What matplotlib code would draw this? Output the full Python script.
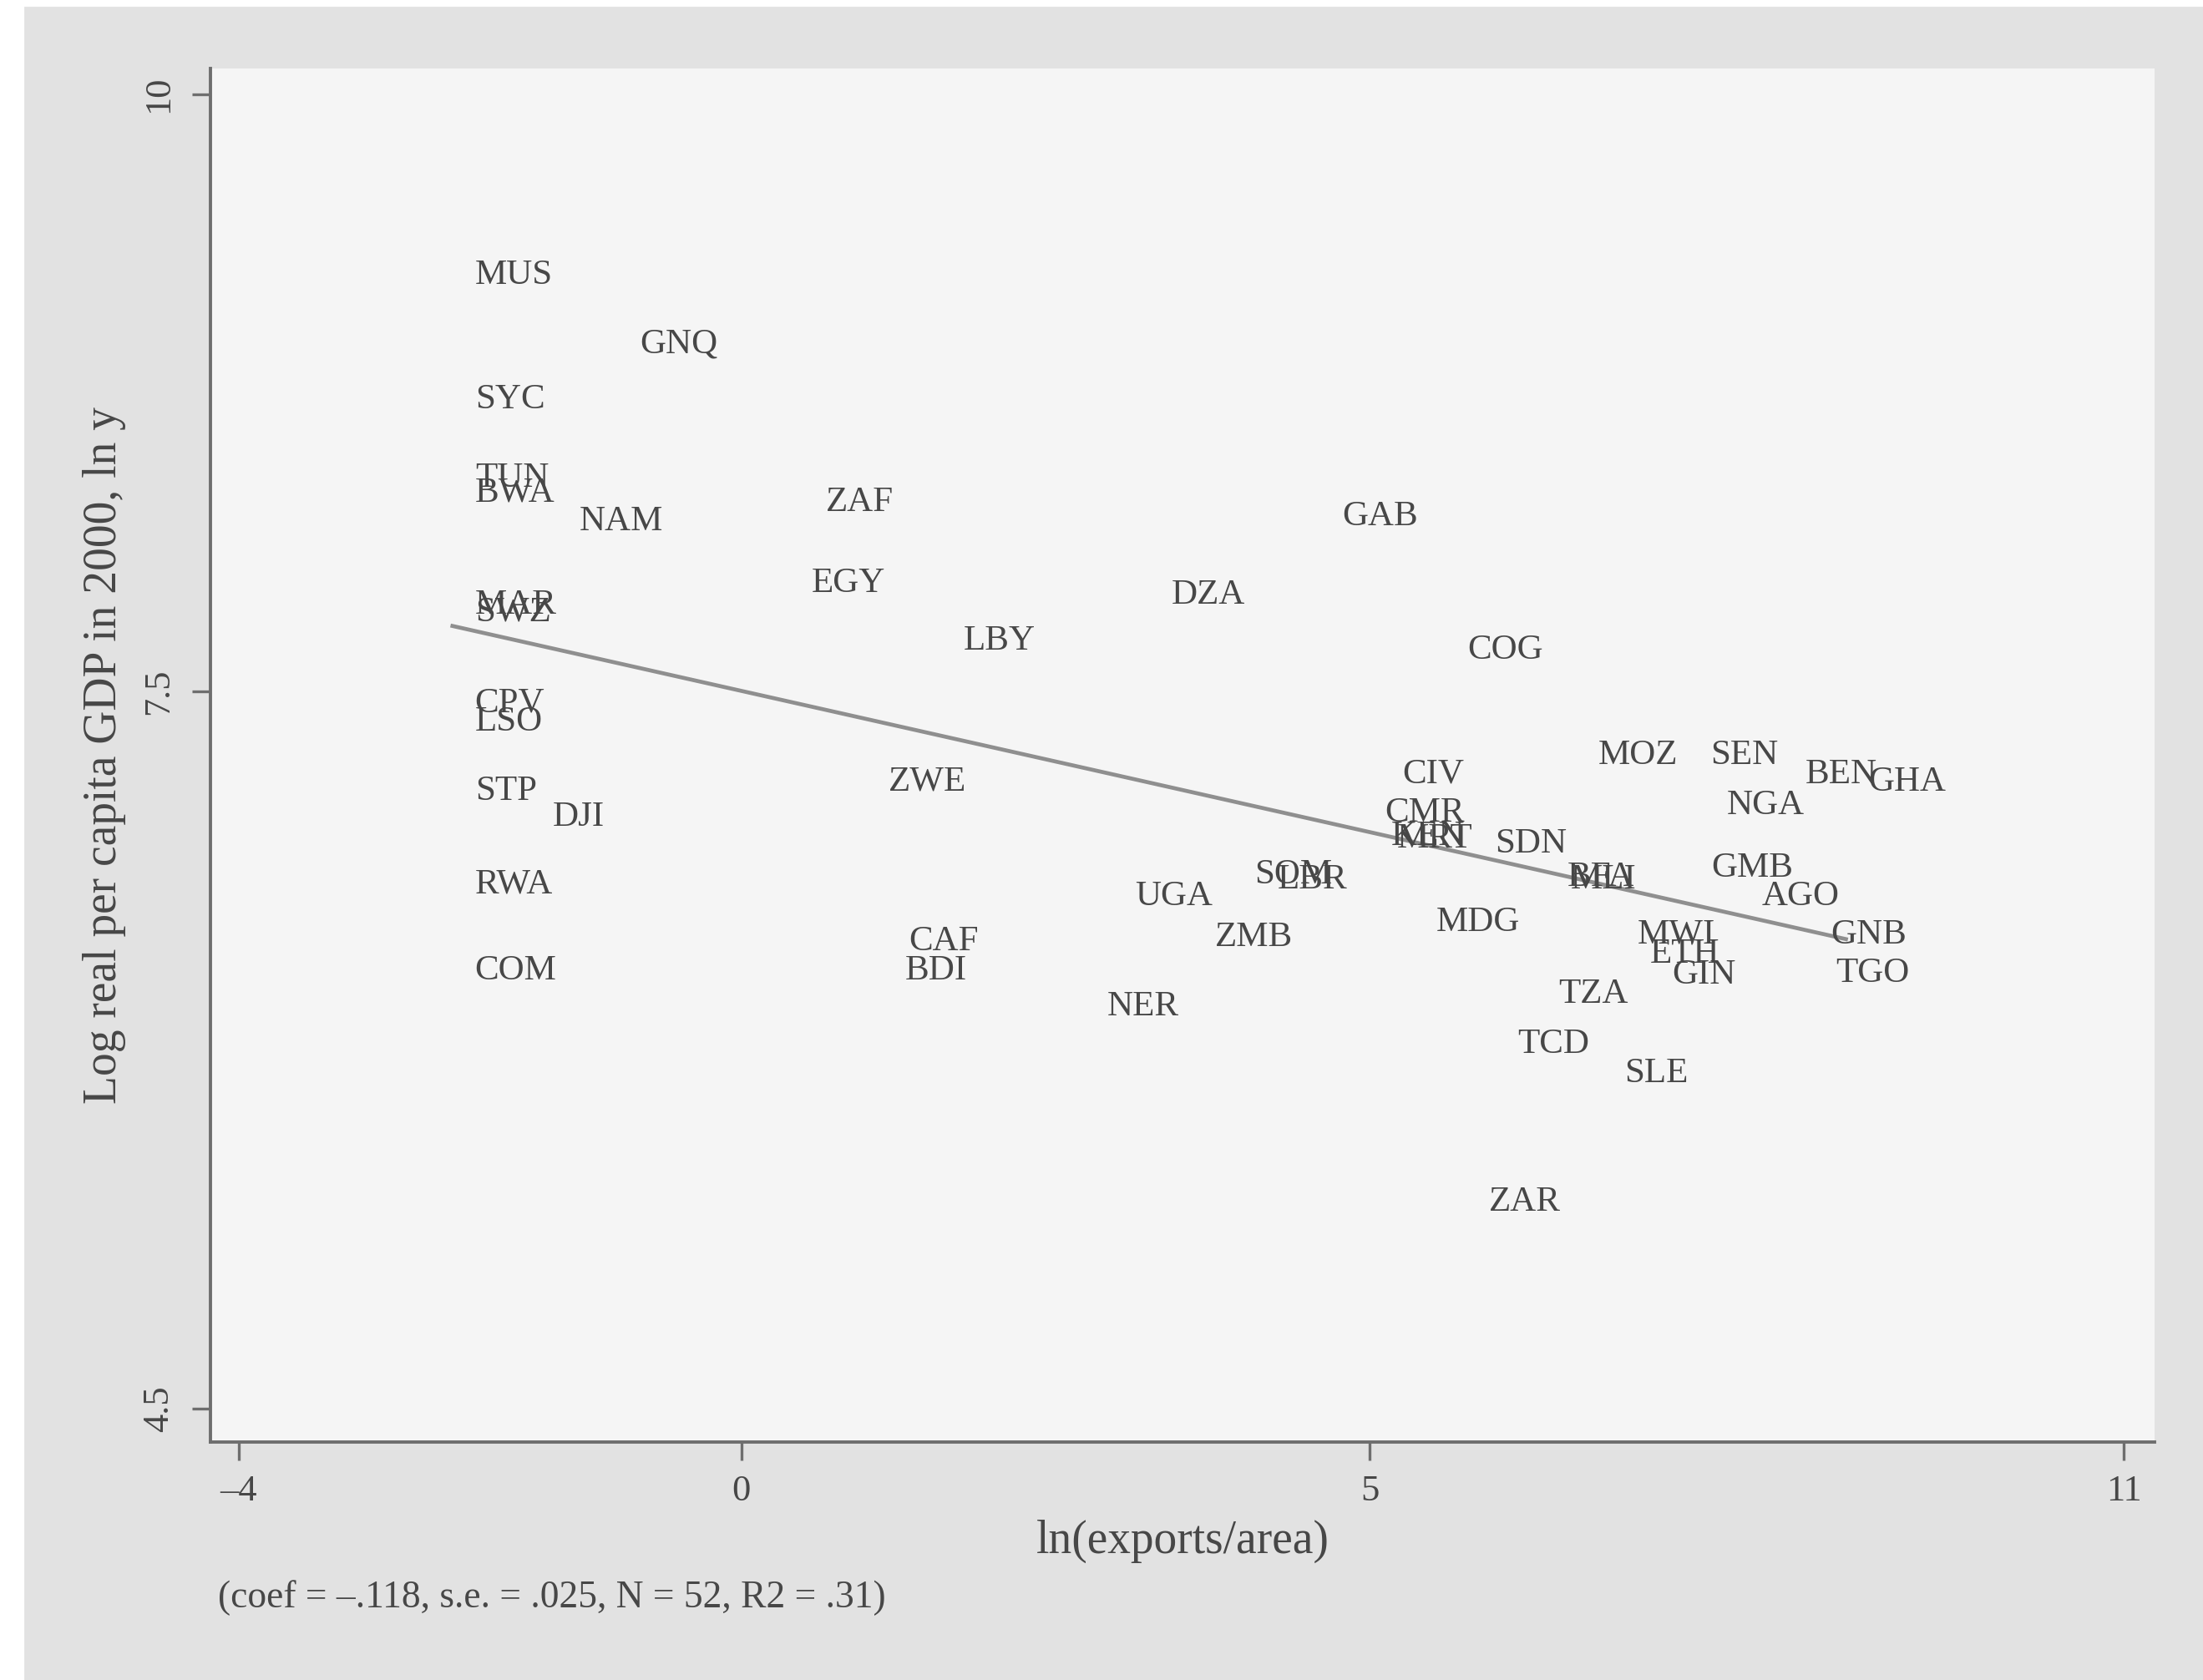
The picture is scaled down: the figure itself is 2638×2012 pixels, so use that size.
import numpy as np
import matplotlib.pyplot as plt
from matplotlib.patches import Rectangle

plt.rcParams['font.family'] = ['Liberation Serif', 'DejaVu Serif']

# country codes with ln(exports/area) and log GDP per capita 2000
codes = ['MUS', 'GNQ', 'SYC', 'TUN', 'BWA', 'NAM', 'ZAF', 'GAB', 'MAR', 'SWZ',
         'EGY', 'DZA', 'LBY', 'COG', 'CPV', 'LSO', 'MOZ', 'SEN', 'BEN', 'GHA',
         'CIV', 'ZWE', 'NGA', 'STP', 'DJI', 'CMR', 'KEN', 'MRT', 'SDN', 'GMB',
         'RWA', 'SOM', 'LBR', 'UGA', 'BFA', 'MLI', 'AGO', 'MDG', 'ZMB', 'MWI',
         'GNB', 'CAF', 'ETH', 'BDI', 'COM', 'GIN', 'TGO', 'NER', 'TZA', 'TCD',
         'SLE', 'ZAR']
ln_exports = [-2.30, -0.99, -2.30, -2.30, -2.30, -1.47, 0.49, 4.60, -2.30, -2.30,
              0.38, 3.24, 1.59, 5.60, -2.30, -2.30, 6.64, 7.53, 8.29, 8.79,
              5.08, 0.99, 7.66, -2.30, -1.68, 4.94, 4.99, 5.04, 5.82, 7.54,
              -2.30, 3.90, 4.09, 2.95, 6.39, 6.42, 7.94, 5.35, 3.59, 6.95,
              8.49, 1.15, 7.05, 1.12, -2.30, 7.23, 8.53, 2.73, 6.32, 6.00,
              6.85, 5.77]
ln_gdp = [9.26, 8.97, 8.74, 8.41, 8.35, 8.23, 8.31, 8.25, 7.88, 7.85,
          7.97, 7.92, 7.73, 7.69, 7.47, 7.39, 7.25, 7.25, 7.17, 7.14,
          7.17, 7.14, 7.04, 7.10, 6.99, 7.01, 6.91, 6.90, 6.88, 6.78,
          6.71, 6.75, 6.73, 6.66, 6.74, 6.73, 6.66, 6.55, 6.49, 6.50,
          6.50, 6.47, 6.42, 6.35, 6.35, 6.33, 6.34, 6.20, 6.25, 6.04,
          5.92, 5.38]

xticks = [-4, 0, 5, 11]
yticks = [4.5, 7.5, 10]
note = '(coef = \u2013.118, s.e. = .025, N = 52, R2 = .31)'

W, H, DPI = 2638, 2012, 200
txt_col = '#474747'

fig = plt.figure(figsize=(W / DPI, H / DPI), dpi=DPI, facecolor='white')
# scanned page background, kept behind the axes
fig.patches.append(Rectangle((30 / W, 0), 1 - 30 / W, 1 - 9 / H,
                             transform=fig.transFigure, color='#e2e2e2', zorder=-10))

ax = fig.add_axes([252 / W, 1 - 1727 / H, (2580 - 252) / W, (1727 - 82) / H])
ax.set_facecolor('#f5f5f5')

x = np.array(ln_exports)
y = np.array(ln_gdp)

# linear fit over the range of x
b, a = np.polyfit(x, y, 1)
xs = np.array([x.min(), x.max()])
ax.plot(xs, a + b * xs, color='#8f8f8f', lw=1.7, zorder=1)

for c, xx, yy in zip(codes, x, y):
    ax.annotate(c, (xx, yy), xytext=(9.7, -1.8), textcoords='offset points',
                ha='left', va='center', fontsize=15.5, color=txt_col, zorder=2)

ax.set_xlim(-4.226, 11.246)
ax.set_ylim(4.36, 10.107)
ax.set_xticks(xticks)
ax.set_xticklabels(['\u20134', '0', '5', '11'])
ax.set_yticks(yticks)
ax.set_yticklabels(['4.5', '7.5', '10'], rotation=90, va='center')

for s in ['top', 'right']:
    ax.spines[s].set_visible(False)
for s in ['left', 'bottom']:
    ax.spines[s].set_color('#6e6e6e')
    ax.spines[s].set_linewidth(1.4)
ax.tick_params(direction='out', length=8, width=1.2, color='#6e6e6e',
               labelsize=16, labelcolor=txt_col)
ax.tick_params(axis='x', pad=6)
ax.tick_params(axis='y', pad=7)

ax.set_xlabel('ln(exports/area)', fontsize=20, color=txt_col, labelpad=5)
ax.set_ylabel('Log real per capita GDP in 2000, ln y', fontsize=20,
              color=txt_col, labelpad=7)

fig.text(261 / W, 1 - 1914 / H, note, fontsize=16.4, color=txt_col,
         ha='left', va='center')

fig.savefig('out.png', dpi=DPI, facecolor=fig.get_facecolor())
